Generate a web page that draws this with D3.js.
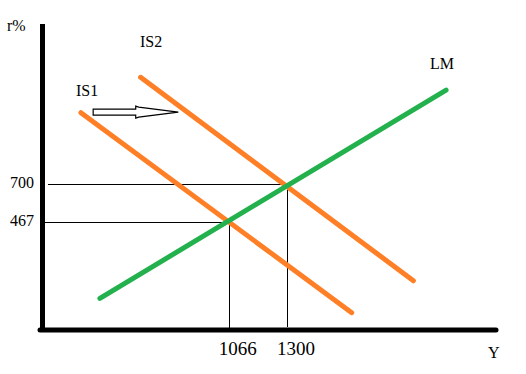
<!DOCTYPE html>
<html>
<head>
<meta charset="utf-8">
<script src="https://cdn.jsdelivr.net/npm/d3@7"></script>
<style>
  html, body { margin: 0; padding: 0; background: #fff; }
  svg { display: block; }
  text { font-family: "Liberation Serif", "Times New Roman", serif; fill: #000; }
</style>
</head>
<body>
<script>
// ---- data ----
const curveNames = ["IS1", "IS2", "LM"];
const curveY = [[472, 1557], [711, 1804], [548, 1935]];      // output Y at both ends
const curveR = [[1139, -87], [1356, 109], [1, 1278]];         // interest rate at both ends
const equilibriumY = [1066, 1300];
const equilibriumR = [467, 700];
const xTickLabels = ["1066", "1300"];
const yTickLabels = ["467", "700"];
const shiftFromY = 521;
const shiftToY = 862;
const shiftR = 1143;
const axisTitles = ["Y", "r%"];

// ---- layout ----
const W = 526, H = 374;
const x = d3.scaleLinear().domain([320, 2135]).range([43, 496]);
const y = d3.scaleLinear().domain([-193, 1683]).range([330, 24]);

const svg = d3.select("body").append("svg").attr("width", W).attr("height", H);

// guide lines
const guides = svg.append("g").attr("stroke", "#000").attr("stroke-width", 1)
  .attr("shape-rendering", "crispEdges");
equilibriumY.forEach((v, i) => {
  guides.append("line")
    .attr("x1", x.range()[0] + (i === 1 ? 5 : 1)).attr("x2", x(v))
    .attr("y1", y(equilibriumR[i])).attr("y2", y(equilibriumR[i]));
  guides.append("line")
    .attr("x1", x(v)).attr("x2", x(v))
    .attr("y1", y(equilibriumR[i])).attr("y2", y.range()[0] - (i === 1 ? 3 : 0));
});

// curves
const colors = { IS1: "#ff7f27", IS2: "#ff7f27", LM: "#22b14c" };
const lineGen = d3.line().x(d => x(d[0])).y(d => y(d[1]));
curveNames.forEach((name, i) => {
  const pts = [[curveY[i][0], curveR[i][0]], [curveY[i][1], curveR[i][1]]];
  svg.append("path")
    .attr("d", lineGen(pts))
    .attr("fill", "none")
    .attr("stroke", colors[name])
    .attr("stroke-width", 5)
    .attr("stroke-linecap", "round");
});

// axes
svg.append("line")
  .attr("x1", x.range()[0] - 0.5).attr("x2", x.range()[0] - 0.5)
  .attr("y1", y.range()[1]).attr("y2", y.range()[0] + 2)
  .attr("stroke", "#000").attr("stroke-width", 5);
svg.append("line")
  .attr("x1", x.range()[0] - 3).attr("x2", x.range()[1])
  .attr("y1", y.range()[0]).attr("y2", y.range()[0])
  .attr("stroke", "#000").attr("stroke-width", 5).attr("stroke-linecap", "round");

// shift arrow (hollow)
const ax0 = x(shiftFromY), ax1 = x(shiftToY), ay = y(shiftR);
const headStart = ax0 + (ax1 - ax0) * 0.5;
const arrowPts = [
  [ax0, ay - 3], [headStart, ay - 3], [headStart, ay - 6], [headStart + 3, ay - 5],
  [ax1, ay], [headStart + 3, ay + 5], [headStart, ay + 6], [headStart, ay + 3], [ax0, ay + 3]
];
svg.append("path")
  .attr("d", d3.line()(arrowPts) + "Z")
  .attr("fill", "#fff").attr("stroke", "#000").attr("stroke-width", 1.2);

// curve labels
const labelPos = [[76, 96], [140, 47], [430, 69]];
curveNames.forEach((name, i) => {
  svg.append("text").attr("x", labelPos[i][0]).attr("y", labelPos[i][1])
    .attr("font-size", 16).text(name);
});

// tick labels
yTickLabels.forEach((t, i) => {
  svg.append("text").attr("x", 34).attr("y", y(+t) + 4)
    .attr("text-anchor", "end").attr("font-size", 16).text(t);
});
xTickLabels.forEach((t, i) => {
  svg.append("text").attr("x", x(+t) + 8.5).attr("y", 355)
    .attr("text-anchor", "middle").attr("font-size", 19).text(t);
});

// axis titles
svg.append("text").attr("x", 488).attr("y", 357.5).attr("font-size", 16).text(axisTitles[0]);
svg.append("text").attr("x", 7).attr("y", 31).attr("font-size", 16).text(axisTitles[1]);
</script>
</body>
</html>
